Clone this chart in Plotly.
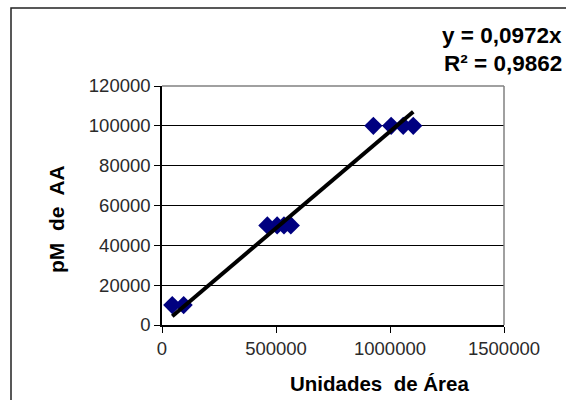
import plotly.graph_objects as go

# Data
area_units = [45000, 95000,
              462000, 505000, 535000, 565000,
              927000, 1005000, 1058000, 1102000]
pm_aa = [10000, 10000,
         50000, 50000, 50000, 50000,
         100000, 100000, 100000, 100000]
slope = 0.0972
r2_text = "0,9862"

x_ticks = [0, 500000, 1000000, 1500000]
y_ticks = [0, 20000, 40000, 60000, 80000, 100000, 120000]

FONT = "Liberation Sans, Arial, sans-serif"

W, H = 566, 400
L, R, T, B = 162, 62, 86, 75
pw, ph = W - L - R, H - T - B

def px(xp):
    return (xp - L) / pw

def py(yp):
    return (H - B - yp) / ph

trend_x = [min(area_units), max(area_units)]
trend_y = [slope * v for v in trend_x]

fig = go.Figure()
fig.add_trace(go.Scatter(
    x=area_units, y=pm_aa, mode="markers",
    marker=dict(symbol="diamond", size=14, color="#000080", line=dict(width=0)),
    showlegend=False, hoverinfo="skip"))
fig.add_trace(go.Scatter(
    x=trend_x, y=trend_y, mode="lines",
    line=dict(color="black", width=4),
    showlegend=False, hoverinfo="skip"))

TICKFONT = dict(size=18.5, color="#2a2a2a")

fig.update_layout(
    width=W, height=H,
    margin=dict(l=L, r=R, t=T, b=B),
    paper_bgcolor="white", plot_bgcolor="white",
    font=dict(family=FONT, size=18, color="#222222"),
    xaxis=dict(range=[0, 1500000], tickvals=x_ticks,
               ticktext=[str(v) for v in x_ticks],
               showgrid=False, zeroline=False,
               showline=True, linecolor="black", linewidth=1.5,
               ticks="outside", ticklen=6, tickcolor="black", tickwidth=1.2,
               tickfont=TICKFONT),
    yaxis=dict(range=[0, 120000], tickvals=y_ticks,
               ticktext=[str(v) for v in y_ticks],
               showgrid=True, gridcolor="black", gridwidth=1,
               zeroline=False,
               showline=True, linecolor="black", linewidth=1.5,
               ticks="outside", ticklen=6, tickcolor="black", tickwidth=1.2,
               ticklabelstandoff=0,
               tickfont=TICKFONT),
)

# plot-area border on top/right (gray)
fig.add_shape(type="line", xref="paper", yref="paper", x0=0, x1=1, y0=1, y1=1,
              line=dict(color="#808080", width=1.5))
fig.add_shape(type="line", xref="paper", yref="paper", x0=1, x1=1, y0=0, y1=1,
              line=dict(color="#808080", width=1.5))
# outer chart frame
fig.add_shape(type="rect", xref="paper", yref="paper",
              x0=px(11), x1=px(580), y0=py(420), y1=py(8),
              line=dict(color="#222222", width=1.5), fillcolor="rgba(0,0,0,0)")

fig.add_annotation(text="<b>Unidades  de Área</b>", xref="paper", yref="paper",
                   x=px(379), y=py(383), showarrow=False,
                   font=dict(size=20.5, color="black"), xanchor="center", yanchor="middle")
fig.add_annotation(text="<b>pM  de  AA</b>", xref="paper", yref="paper",
                   x=px(56), y=py(219), showarrow=False, textangle=-90,
                   font=dict(size=21, color="black"), xanchor="center", yanchor="middle")
fig.add_annotation(text="<b>y = " + f"{slope:.4f}".replace(".", ",") + "x</b>",
                   xref="paper", yref="paper",
                   x=px(563), y=py(49), showarrow=False, borderpad=0,
                   font=dict(size=22.5, color="black"), xanchor="right", yanchor="bottom")
fig.add_annotation(text="<b>R² = " + r2_text + "</b>", xref="paper", yref="paper",
                   x=px(563), y=py(49.5), showarrow=False, borderpad=0,
                   font=dict(size=22.5, color="black"), xanchor="right", yanchor="top")

fig.write_html("out.html")
